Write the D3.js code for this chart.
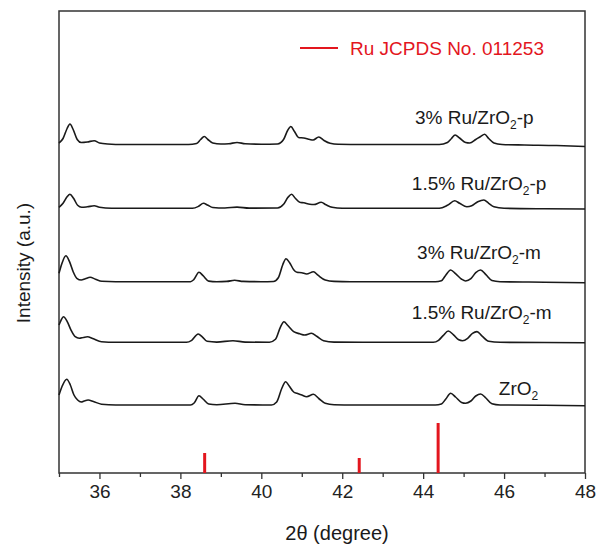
<!DOCTYPE html>
<html>
<head>
<meta charset="utf-8">
<script src="https://d3js.org/d3.v7.min.js"></script>
<style>
  body { margin: 0; background: #fff; }
  svg text { font-family: "Liberation Sans", Arial, sans-serif; }
</style>
</head>
<body>
<svg width="600" height="547" id="xrd"></svg>
<script>

// 2theta (degree), intensity above each pattern's own baseline (a.u.)
var zro2 = [[35.0,10],[35.08,19],[35.19,25.7],[35.28,20],[35.37,10],[35.46,5],[35.55,3],[35.62,4],[35.72,5],[35.85,3.5],[36.05,0.8],[36.4,0],[37.5,0],[38.25,0],[38.34,2],[38.46,9.3],[38.56,6],[38.7,1],[38.9,0.2],[39.35,1.7],[39.6,0.2],[40.25,0],[40.38,3],[40.51,17],[40.6,23.3],[40.69,19],[40.8,13],[40.88,11.7],[41.0,10],[41.12,8.3],[41.29,10.7],[41.42,6.5],[41.58,1.7],[41.8,0.3],[42.3,0],[44.3,0],[44.45,1],[44.56,6],[44.68,11.7],[44.8,8],[44.95,2.5],[45.05,1.7],[45.18,4],[45.3,9],[45.42,11],[45.55,7],[45.7,1.2],[45.9,0],[47.0,-0.3],[48.0,-0.7]];

var ru15m = [[35.0,17.3],[35.05,22],[35.11,25.6],[35.2,21],[35.3,12],[35.4,5.6],[35.5,4],[35.6,4.8],[35.7,5.6],[35.85,3.5],[36.05,0.6],[36.4,0],[37.5,0],[38.15,0],[38.28,2],[38.44,8.3],[38.54,5.5],[38.66,1],[38.9,0.2],[39.3,1.6],[39.6,0.2],[40.2,0],[40.35,3],[40.47,15],[40.56,20.6],[40.65,17],[40.8,10.6],[40.95,8.5],[41.07,7.3],[41.24,9],[41.37,6],[41.54,1.6],[41.8,0.2],[42.5,0],[44.25,0],[44.38,2],[44.5,7],[44.62,11.3],[44.75,7.5],[44.88,2.5],[44.97,1.6],[45.1,4],[45.22,9],[45.33,10.7],[45.45,6.5],[45.62,1],[45.9,0],[47.0,-0.2],[48.0,-0.4]];

var ru3m = [[35.0,8.4],[35.07,18],[35.17,26],[35.26,20],[35.35,10],[35.44,3.4],[35.55,1.7],[35.65,3],[35.77,4.4],[35.9,2.5],[36.06,0.4],[36.4,0],[37.5,0],[38.25,0],[38.33,2],[38.46,9.4],[38.56,6],[38.7,0.6],[38.9,0],[39.15,0.3],[39.34,1.4],[39.55,0.3],[40.0,0],[40.3,0.2],[40.42,4],[40.53,17],[40.61,23],[40.7,19],[40.8,12],[40.88,9.4],[41.0,9],[41.12,7.7],[41.29,10],[41.4,6.5],[41.58,1.7],[41.8,0.3],[42.2,0],[44.3,0],[44.45,1],[44.55,6],[44.68,11.7],[44.8,8],[44.95,2.5],[45.05,0.7],[45.18,3],[45.3,9],[45.42,11.7],[45.55,7],[45.7,1.2],[45.9,0],[47.0,-0.5],[48.0,-1]];

var ru15p = [[35.0,1],[35.1,5],[35.2,11.5],[35.27,14],[35.36,10],[35.46,3],[35.56,1],[35.7,1.5],[35.87,2.5],[36.0,1],[36.3,0],[37.5,0],[38.3,0],[38.45,2],[38.57,5],[38.68,3],[38.8,0.8],[39.1,0.3],[39.4,1.2],[39.7,0.2],[40.4,0.3],[40.55,4],[40.66,11],[40.75,14],[40.84,10],[40.95,6],[41.05,5.5],[41.2,4],[41.3,3.8],[41.48,6],[41.6,3.5],[41.75,1],[42.0,0],[44.4,0],[44.6,3],[44.78,7.5],[44.9,5],[45.08,1.5],[45.2,2.5],[45.35,6.5],[45.5,8.3],[45.62,5],[45.75,1.5],[46.0,0],[47.0,-0.5],[48.0,-0.7]];

var ru3p = [[35.0,1.5],[35.1,6],[35.2,16],[35.27,20.5],[35.35,15],[35.45,5],[35.55,2],[35.7,2.5],[35.87,3.8],[36.0,1.5],[36.2,0.5],[36.6,0],[37.5,0],[38.2,0],[38.4,1],[38.5,5],[38.59,8],[38.68,5],[38.8,1.5],[39.0,0.5],[39.2,0.8],[39.4,2],[39.6,0.8],[40.0,0.3],[40.4,0.5],[40.55,5],[40.65,14],[40.73,18],[40.82,13],[40.92,7],[41.05,6.5],[41.2,5],[41.28,4.5],[41.42,7.5],[41.55,4],[41.7,1.2],[41.9,0.2],[42.5,0],[43.5,0],[44.4,0],[44.6,2],[44.7,6],[44.79,9.5],[44.9,6.5],[45.05,2],[45.15,1.5],[45.3,5],[45.42,8],[45.52,10.2],[45.62,6],[45.75,1.5],[45.95,0],[46.5,-0.5],[47.3,-1],[48.0,-2]];

var patterns = [zro2, ru15m, ru3m, ru15p, ru3p];
var offsets = [68, 130.7, 191.3, 264.7, 328.5];
var labelMain = ["ZrO", "1.5% Ru/ZrO", "3% Ru/ZrO", "1.5% Ru/ZrO", "3% Ru/ZrO"];
var labelTail = ["", "-m", "-m", "-p", "-p"];
var labelX = [45.87, 43.72, 43.85, 43.72, 43.8];
var labelY = [10, 23, 22.7, 18, 20.5];

// Ru JCPDS No. 011253 reference lines
var ruPos = [38.6, 42.42, 44.37];
var ruInt = [20, 15, 50];

var xTicks = [36, 38, 40, 42, 44, 46, 48];
var xMinor = [35, 37, 39, 41, 43, 45, 47];

var red = "#e3161e";

var svg = d3.select("#xrd"),
    margin = {top: 11, right: 15, bottom: 74, left: 59},
    width = +svg.attr("width") - margin.left - margin.right,
    height = +svg.attr("height") - margin.top - margin.bottom,
    g = svg.append("g").attr("transform", "translate(" + margin.left + "," + margin.top + ")");

var x = d3.scaleLinear().domain([35, 48]).range([0, width]);
var y = d3.scaleLinear().domain([0, 462]).range([height, 0]);

// minor ticks
g.append("g")
    .attr("transform", "translate(0," + height + ")")
    .call(d3.axisBottom(x).tickValues(xMinor).tickSize(4).tickFormat(""))
    .call(function(a) { a.select(".domain").remove(); })
    .selectAll("line").attr("stroke", "#333").attr("stroke-width", 1.3);

var xAxis = g.append("g")
    .attr("transform", "translate(0," + height + ")")
    .call(d3.axisBottom(x).tickValues(xTicks).tickSize(6).tickPadding(6).tickFormat(d3.format("d")));
xAxis.select(".domain").remove();
xAxis.selectAll("line").attr("stroke", "#333").attr("stroke-width", 1.3);
xAxis.selectAll("text")
    .attr("fill", "#222")
    .style("font-size", "19px");

// frame
g.append("rect")
    .attr("width", width)
    .attr("height", height)
    .attr("fill", "none")
    .attr("stroke", "#333")
    .attr("stroke-width", 1.5);

// reference lines
g.selectAll(".ru")
    .data(ruPos)
  .enter().append("line")
    .attr("class", "ru")
    .attr("x1", function(d) { return x(d); })
    .attr("x2", function(d) { return x(d); })
    .attr("y1", y(0))
    .attr("y2", function(d, i) { return y(ruInt[i]); })
    .attr("stroke", red)
    .attr("stroke-width", 3);

var line = d3.line()
    .curve(d3.curveMonotoneX)
    .x(function(d) { return x(d[0]); });

patterns.forEach(function(p, i) {
  g.append("path")
      .datum(p)
      .attr("fill", "none")
      .attr("stroke", "#1a1a1a")
      .attr("stroke-width", 1.6)
      .attr("stroke-linejoin", "round")
      .attr("d", line.y(function(d) { return y(d[1] + offsets[i]); }));

  var t = g.append("text")
      .attr("x", x(labelX[i]))
      .attr("y", y(offsets[i] + labelY[i]))
      .attr("fill", "#1a1a1a")
      .style("font-size", "19px");
  t.append("tspan").text(labelMain[i]);
  t.append("tspan").attr("dy", 5).style("font-size", "12px").text("2");
  t.append("tspan").attr("dy", -5).text(labelTail[i]);
});

// legend
g.append("line")
    .attr("x1", 300 - margin.left).attr("x2", 338 - margin.left)
    .attr("y1", 48 - margin.top).attr("y2", 48 - margin.top)
    .attr("stroke", red)
    .attr("stroke-width", 2);
g.append("text")
    .attr("x", 350 - margin.left)
    .attr("y", 55 - margin.top)
    .attr("fill", red)
    .style("font-size", "19px")
    .text("Ru JCPDS No. 011253");

// axis titles
svg.append("text")
    .attr("x", 337)
    .attr("y", 540)
    .attr("text-anchor", "middle")
    .attr("fill", "#1a1a1a")
    .style("font-size", "20px")
    .text("2\u03b8 (degree)");

svg.append("text")
    .attr("transform", "translate(30,263) rotate(-90)")
    .attr("text-anchor", "middle")
    .attr("fill", "#1a1a1a")
    .style("font-size", "19px")
    .text("Intensity (a.u.)");

</script>
</body>
</html>
